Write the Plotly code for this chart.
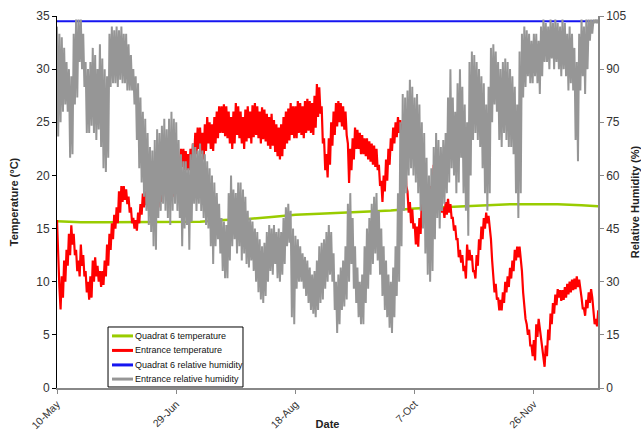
import numpy as np
import pandas as pd
import plotly.graph_objects as go

# ---- data -------------------------------------------------------------
start_date = "2007-05-10"

# Entrance temperature (°C): daily high / low readings, one per day from 10-May
temp_entrance_hi = [
    15.8, 9.5, 10.5, 12, 13, 14.5, 15.3, 14.5, 13, 12,
    13.5, 12.5, 11, 10, 10.5, 12, 12.3, 11.5, 11, 11,
    12, 13.5, 14.5, 15.5, 16.3, 17, 18.5, 19, 19, 18.7,
    18, 17, 16, 15.8, 16.5, 17.3, 18.3, 18.5, 18, 17.5,
    17, 17.3, 18, 18.5, 19, 19.5, 19.5, 19.3, 19, 19.5,
    20.5, 21.5, 22.5, 22.5, 22.3, 22, 22.5, 23, 24, 24.5,
    24.5, 24, 24.8, 25.5, 25, 24.8, 25.5, 26, 26.5, 26.5,
    26.7, 26.5, 26, 25.5, 26, 26.8, 26.5, 26, 25.5, 26.2,
    26.5, 26, 26.6, 26.8, 26.5, 26, 26.4, 26.2, 25.8, 25.5,
    25.8, 25.2, 24.8, 24.5, 24.8, 25.5, 26, 26.3, 26.8, 26.5,
    26.5, 27, 26.8, 26.5, 27, 27.2, 27, 26.8, 27.5, 28.6,
    28.3, 26.5, 23.5, 22, 23.5, 25, 26, 26.8, 27, 26.8,
    26.5, 26, 23, 22.5, 23.5, 24.5, 24.3, 24, 23.8, 23.5,
    23.5, 23.2, 23, 22.8, 22.5, 21, 19.5, 20, 21.5, 22.5,
    23.5, 24.5, 25, 25.5, 25.2, 24.8, 22, 18.5, 17.5, 16.8,
    15.5, 15.2, 16, 17.5, 18, 17.5, 17, 19, 21, 21.7,
    21.5, 18, 17, 17.5, 17.8, 17.3, 16, 15.3, 14, 13,
    12.5, 11.5, 13.5, 13, 12.5, 11, 12.5, 14, 15.2, 16,
    16.5, 16.2, 14, 10.5, 9.8, 8.5, 8.3, 9, 10, 10.5,
    11.3, 12, 13, 13.3, 13.3, 11, 7.5, 6, 5.5, 4,
    4.5, 6, 6.5, 5, 3, 4, 5.5, 7, 8, 8.8,
    9.3, 9.2, 9.2, 9.5, 9.8, 10, 10.2, 10.3, 10.5, 10.2,
    8.5, 7.5, 8.3, 9, 9.3, 7.5, 6.5, 7.3,
]
temp_entrance_lo = [
    12, 7.4, 8.5, 10, 11.5, 12.5, 13.5, 12.5, 11, 10.5,
    11.5, 10.5, 9, 8.3, 8.5, 10, 10.5, 10, 9.5, 9.7,
    10.5, 11.5, 13, 14, 15, 15.5, 16.5, 17.5, 17.7, 17.3,
    16.5, 15.5, 15, 14.8, 15.5, 16.3, 17, 17.2, 16.8, 16.5,
    16, 16.3, 17, 17.5, 18, 18.3, 18.3, 18.2, 18, 18.5,
    19.5, 20.5, 20.8, 20.5, 20.5, 20.5, 20.8, 21.5, 22, 22.5,
    22, 21.5, 22.3, 23, 22.5, 22.3, 23, 23.5, 24, 24,
    23.7, 23.5, 23, 22.5, 23, 23.8, 23.5, 23, 22.5, 23.2,
    23.5, 23, 23.6, 23.8, 23.5, 23, 23.4, 23.2, 22.8, 22.5,
    22.8, 22.2, 21.8, 21.5, 21.8, 22.5, 23, 23.3, 23.8, 23.5,
    23.5, 24, 23.8, 23.5, 24, 24.2, 24, 23.8, 24.5, 25.5,
    25.8, 23, 20.5, 19.8, 21, 22.8, 23.8, 24.6, 25, 24.6,
    24.3, 23.8, 19.3, 20.5, 21.5, 22.5, 22.5, 22, 22, 21.8,
    21.5, 21.3, 21, 20.8, 20.5, 19, 17.5, 18.5, 19.5, 21,
    22.3, 23, 23.6, 24, 23.8, 23.5, 19, 16.5, 15.5, 15,
    13.5, 13.3, 14.5, 16, 16.7, 16, 16, 17.5, 19.8, 20.3,
    20, 16.5, 16, 16.3, 16.5, 16, 14.8, 14, 12.3, 11.8,
    11, 10.3, 12, 12, 11, 10.3, 11.5, 13, 14, 15,
    15.5, 15, 12, 9, 8.3, 7.3, 7.3, 8, 9, 9.5,
    10.3, 11, 12, 12.3, 12.3, 9, 6.5, 5, 4, 3,
    2.6, 4.8, 5.5, 3.5, 2, 3, 4.5, 6, 7, 7.8,
    8.5, 8.2, 8.3, 8.5, 8.8, 9, 9.2, 9.3, 9.5, 9,
    7.5, 6.8, 7.5, 8, 8.5, 6, 5.8, 6.5,
]

# Entrance relative humidity (%): daily high / low readings
rh_entrance_hi = [
    102, 100, 99, 96, 92, 90, 88, 100, 104, 104,
    104, 100, 92, 90, 92, 96, 94, 90, 97, 93,
    90, 88, 100, 102, 101, 102, 101, 102, 100, 100,
    97, 94, 90, 88, 86, 82, 78, 76, 72, 68,
    67, 70, 73, 72, 74, 76, 73, 76, 78, 76,
    75, 70, 66, 64, 64, 62, 66, 69, 68, 67,
    69, 67, 66, 64, 62, 60, 58, 55, 52, 48,
    47, 46, 55, 60, 56, 55, 58, 58, 56, 54,
    50, 48, 47, 45, 44, 42, 40, 41, 44, 46,
    45, 46, 44, 45, 44, 48, 51, 52, 50, 45,
    43, 42, 40, 38, 37, 36, 34, 32, 33, 36,
    40, 41, 42, 44, 46, 44, 38, 30, 32, 34,
    36, 40, 52, 55, 48, 40, 34, 30, 32, 40,
    45, 48, 52, 54, 55, 50, 45, 40, 36, 32,
    30, 34, 40, 55, 75, 83, 82, 84, 87, 85,
    82, 83, 80, 75, 72, 65, 60, 62, 68, 72,
    70, 68, 70, 72, 82, 90, 82, 78, 86, 90,
    85, 80, 75, 92, 95, 94, 92, 90, 88, 86,
    80, 85, 96, 97, 95, 92, 90, 92, 93, 92,
    90, 88, 85, 80, 95, 100, 102, 101, 100, 98,
    100, 100, 98, 102, 104, 103, 102, 104, 103, 104,
    103, 102, 104, 103, 100, 102, 100, 96, 92, 100,
    104, 102, 104, 104, 104, 104, 104, 104,
]
rh_entrance_lo = [
    71, 75, 78, 80, 78, 65, 66, 80, 82, 92,
    90, 85, 72, 72, 74, 72, 70, 73, 68, 62,
    61, 65, 85, 86, 86, 85, 87, 86, 86, 84,
    84, 84, 80, 70, 62, 58, 54, 50, 46, 44,
    40, 39, 48, 50, 52, 50, 48, 46, 50, 52,
    50, 48, 40, 45, 46, 39, 47, 52, 50, 52,
    50, 48, 46, 45, 40, 35, 40, 42, 38, 33,
    31, 31, 36, 40, 42, 38, 40, 36, 38, 35,
    34, 36, 33, 30, 27, 25, 24, 26, 30, 33,
    32, 35, 31, 30, 32, 35, 40, 41, 20, 18,
    28, 30, 30, 28, 26, 24, 22, 21, 20, 22,
    24, 25, 28, 30, 32, 30, 22, 15.5, 18, 22,
    23, 25, 30, 35, 28, 24, 20, 18, 18, 24,
    28, 32, 35, 38, 36, 32, 26, 22, 20, 17,
    15.5, 20, 26, 30, 40, 50, 55, 60, 62, 60,
    58, 55, 50, 45, 38, 32, 30, 33, 42, 48,
    45, 50, 52, 55, 58, 62, 60, 55, 58, 65,
    55, 50, 43, 60, 70, 72, 70, 68, 62, 55,
    50, 55, 75, 80, 78, 70, 68, 72, 70, 68,
    68, 66, 55, 48, 55, 82, 85, 88, 86, 86,
    88, 86, 83, 88, 92, 92, 90, 93, 90, 92,
    90, 88, 90, 88, 84, 86, 84, 70, 64, 84,
    88, 83, 90, 98, 100, 103, 103, 103,
]

# Quadrat 6 temperature (°C), read every 10 days (last at day 227)
quad_days = [0, 10, 20, 30, 40, 50, 60, 70, 80, 90, 100, 110,
             120, 130, 140, 150, 160, 170, 180, 190, 200, 210, 220, 227]
quad_temp = [15.7, 15.6, 15.6, 15.6, 15.6, 15.6, 15.65, 15.8, 15.9, 16.1, 16.3, 16.4,
             16.5, 16.6, 16.7, 16.9, 17.0, 17.1, 17.2, 17.3, 17.3, 17.3, 17.2, 17.1]

# Quadrat 6 relative humidity (%), constant over the record
quad_rh_days = [0, 227]
quad_rh = [103.5, 103.5]

# Date axis ticks
tick_labels = ["10-May", "29-Jun", "18-Aug", "7-Oct", "26-Nov"]

# Series names and colours (also used for the boxed key)
series_names = ["Quadrat 6 temperature", "Entrance temperature",
                "Quadrat 6 relative humidity", "Entrance relative humidity"]
series_colors = ["#99CC00", "#FF0000", "#1515F0", "#969696"]

# ---- build time axes ----------------------------------------------------
t0 = pd.Timestamp(start_date)
year = t0.year


def day_to_date(d):
    return t0 + pd.to_timedelta(d, unit="D")


def daily_pairs(hi, lo):
    """Two readings per day: the day's high then the night's low."""
    xs, ys = [], []
    for d, (h, l) in enumerate(zip(hi, lo)):
        xs += [day_to_date(d), day_to_date(d + 0.5)]
        ys += [h, l]
    return xs, ys


tx, ty = daily_pairs(temp_entrance_hi, temp_entrance_lo)
hx, hy = daily_pairs(rh_entrance_hi, rh_entrance_lo)
qx = [day_to_date(d) for d in quad_days]
bx = [day_to_date(d) for d in quad_rh_days]
tick_dates = [pd.Timestamp(f"{lbl}-{year}") for lbl in tick_labels]

# ---- figure -------------------------------------------------------------
FONT = "Liberation Sans, Arial, sans-serif"

fig = go.Figure()
fig.add_trace(go.Scatter(x=qx, y=quad_temp, name=series_names[0], mode="lines",
                         line=dict(color=series_colors[0], width=2.5)))
fig.add_trace(go.Scatter(x=tx, y=ty, name=series_names[1], mode="lines",
                         line=dict(color=series_colors[1], width=2.2)))
fig.add_trace(go.Scatter(x=bx, y=quad_rh, name=series_names[2], mode="lines",
                         line=dict(color=series_colors[2], width=2), yaxis="y2"))
fig.add_trace(go.Scatter(x=hx, y=hy, name=series_names[3], mode="lines",
                         line=dict(color=series_colors[3], width=2.0), yaxis="y2"))

# Compact boxed key in the lower-left corner of the plot area
key_x0, key_x1, key_y0, key_y1 = 0.0943, 0.3438, 0.0027, 0.164
row_y = [0.140, 0.101, 0.062, 0.024]
shapes = [dict(type="rect", xref="paper", yref="paper", x0=key_x0, x1=key_x1,
               y0=key_y0, y1=key_y1, line=dict(color="black", width=1),
               fillcolor="white", layer="above")]
annotations = []
for name, color, yy in zip(series_names, series_colors, row_y):
    shapes.append(dict(type="line", xref="paper", yref="paper", x0=0.1017, x1=0.1405,
                       y0=yy, y1=yy, line=dict(color=color, width=3), layer="above"))
    annotations.append(dict(xref="paper", yref="paper", x=0.1405, y=yy, text=name,
                            showarrow=False, xanchor="left", yanchor="middle",
                            font=dict(family=FONT, size=9, color="#111")))

fig.update_layout(
    width=641, height=430, autosize=False,
    margin=dict(l=57, r=43, t=16, b=42, pad=0),
    paper_bgcolor="white", plot_bgcolor="white",
    font=dict(family=FONT, size=12, color="#222"),
    showlegend=False,
    shapes=shapes, annotations=annotations,
    xaxis=dict(
        type="date", automargin=False,
        range=[day_to_date(0), day_to_date(226.9)],
        tickvals=tick_dates, ticktext=tick_labels, tickangle=-45,
        tickfont=dict(size=10.5, color="#333"),
        showline=True, linecolor="#888888", linewidth=2,
        ticks="outside", ticklen=4, tickcolor="#888888",
        showgrid=False, zeroline=False,
        title=dict(text="<b>Date</b>", font=dict(size=11, color="#222")),
    ),
    yaxis=dict(
        range=[0, 35], dtick=5, tick0=0, automargin=False,
        tickfont=dict(size=12, color="#333"),
        showline=True, linecolor="black", linewidth=1,
        ticks="outside", ticklen=4, tickcolor="black",
        showgrid=False, zeroline=False,
        title=dict(text="<b>Temperature (°C)</b>", font=dict(size=11, color="#222")),
    ),
    yaxis2=dict(
        overlaying="y", side="right", automargin=False,
        range=[0, 105], dtick=15, tick0=0,
        tickfont=dict(size=12, color="#333"),
        showline=True, linecolor="#888888", linewidth=1.5,
        ticks="outside", ticklen=4, tickcolor="#888888",
        showgrid=False, zeroline=False,
        title=dict(text="<b>Relative Humidity (%)</b>", font=dict(size=11, color="#222")),
    ),
)

fig.write_html("out.html")
